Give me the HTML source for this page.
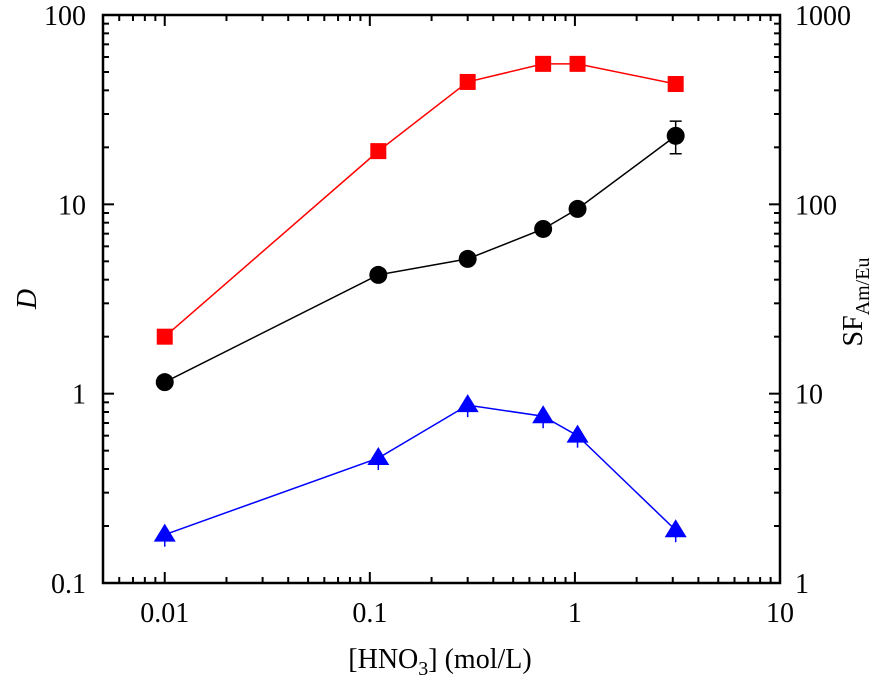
<!DOCTYPE html>
<html><head><meta charset="utf-8"><style>
body{margin:0;background:#fff}
svg text{font-family:"Liberation Serif","Times New Roman",serif;fill:#000}
</style></head><body>
<svg id="chart" width="885" height="687" viewBox="0 0 885 687" xmlns="http://www.w3.org/2000/svg" font-family="Liberation Serif, Times New Roman, serif"></svg>
<script>
const xValues=[0.01,0.11,0.3,0.7,1.03,3.1];
const dValues=[1.15,4.24,5.15,7.41,9.46,23];
const dErr=[0,0,0,0,0,4.5];
const blueValues=[0.18,0.457,0.87,0.76,0.60,0.19];
const sfValues=[20,191,443,552,552,432];
const xTicks=[0.01,0.1,1,10];
const xTickLabels=["0.01","0.1","1","10"];
const yTicks=[0.1,1,10,100];
const yTickLabels=["0.1","1","10","100"];
const y2Ticks=[1,10,100,1000];
const y2TickLabels=["1","10","100","1000"];

const L=103,R=780,T=15,B=583;
const xMin=0.005,xMax=10;
const FF='"Liberation Serif", "Times New Roman", serif';
const X=v=>L+(Math.log10(v)-Math.log10(xMin))/(Math.log10(xMax)-Math.log10(xMin))*(R-L);
const Y=v=>B-(Math.log10(v)+1)/3*(B-T);
const Y2=v=>B-Math.log10(v)/3*(B-T);
const svg=document.getElementById('chart');
const NS='http://www.w3.org/2000/svg';
function mk(tag,attrs,parent){const e=document.createElementNS(NS,tag);for(const k in attrs)e.setAttribute(k,attrs[k]);if(tag==='text')e.style.fontFamily=FF;(parent||svg).appendChild(e);return e;}

const frame=mk('rect',{x:L,y:T,width:R-L,height:B-T,fill:'none',stroke:'#000','stroke-width':2.5});



for(let d=-3;d<=1;d++){for(let m=1;m<10;m++){const v=m*Math.pow(10,d);if(v<xMin-1e-9||v>xMax+1e-9)continue;const x=X(v);const len=m===1?11:6;
mk('line',{x1:x,y1:B,x2:x,y2:B-len,stroke:'#000','stroke-width':2});
mk('line',{x1:x,y1:T,x2:x,y2:T+len,stroke:'#000','stroke-width':2});}}
xTicks.forEach((v,i)=>{const t=mk('text',{x:X(v),y:622,'font-size':28,'text-anchor':'middle'});t.textContent=xTickLabels[i];

});
for(let d=-1;d<=2;d++){for(let m=1;m<10;m++){const v=m*Math.pow(10,d);if(v>100+1e-9)continue;const y=Y(v);const len=m===1?11:6;
mk('line',{x1:L,y1:y,x2:L+len,y2:y,stroke:'#000','stroke-width':2});
mk('line',{x1:R,y1:y,x2:R-len,y2:y,stroke:'#000','stroke-width':2});}}
yTicks.forEach((v,i)=>{const t=mk('text',{x:86,y:Y(v)+10,'font-size':28,'text-anchor':'end'});t.textContent=yTickLabels[i];

});
y2Ticks.forEach((v,i)=>{const t=mk('text',{x:795,y:Y2(v)+10,'font-size':28,'text-anchor':'start'});t.textContent=y2TickLabels[i];

});

const xt=mk('text',{x:440,y:668,'font-size':28,'text-anchor':'middle'});
xt.innerHTML='[HNO<tspan font-size="20" dy="7">3</tspan><tspan dy="-7">] (mol/L)</tspan>';


const yt=mk('text',{x:0,y:0,'font-size':28,'font-style':'italic','text-anchor':'middle',transform:'translate(36,299) rotate(-90)'});
yt.textContent='D';


const y2t=mk('text',{x:0,y:0,'font-size':28,'text-anchor':'middle',transform:'translate(862,302) rotate(-90)'});
y2t.innerHTML='SF<tspan font-size="20" dy="7">Am/Eu</tspan>';



function line(vals,fy,color,name){const p=mk('polyline',{points:vals.map((v,i)=>X(xValues[i])+','+fy(v)).join(' '),fill:'none',stroke:color,'stroke-width':1.5});

}
line(sfValues,Y2,'#ff0000','sf-line');
line(dValues,Y,'#000','d-am-line');
line(blueValues,Y,'#0000ff','d-eu-line');

sfValues.forEach((v,i)=>{const x=X(xValues[i]),y=Y2(v);const r=mk('rect',{x:x-8,y:y-8,width:16,height:16,fill:'#ff0000'});

});
dValues.forEach((v,i)=>{const x=X(xValues[i]),y=Y(v);
if(dErr[i]>0){const y1=Y(v+dErr[i]),y2=Y(v-dErr[i]);
mk('line',{x1:x,y1:y1,x2:x,y2:y2,stroke:'#000','stroke-width':1.5});
mk('line',{x1:x-6,y1:y1,x2:x+6,y2:y1,stroke:'#000','stroke-width':1.5});
mk('line',{x1:x-6,y1:y2,x2:x+6,y2:y2,stroke:'#000','stroke-width':1.5});}
const c=mk('circle',{cx:x,cy:y,r:9,fill:'#000'});

});
blueValues.forEach((v,i)=>{const x=X(xValues[i]),y=Y(v);
mk('line',{x1:x,y1:y,x2:x,y2:y+12,stroke:'#0000ff','stroke-width':1.5});
const p=mk('polygon',{points:`${x},${y-11} ${x-11},${y+7} ${x+11},${y+7}`,fill:'#0000ff'});

});
</script>
</body></html>
